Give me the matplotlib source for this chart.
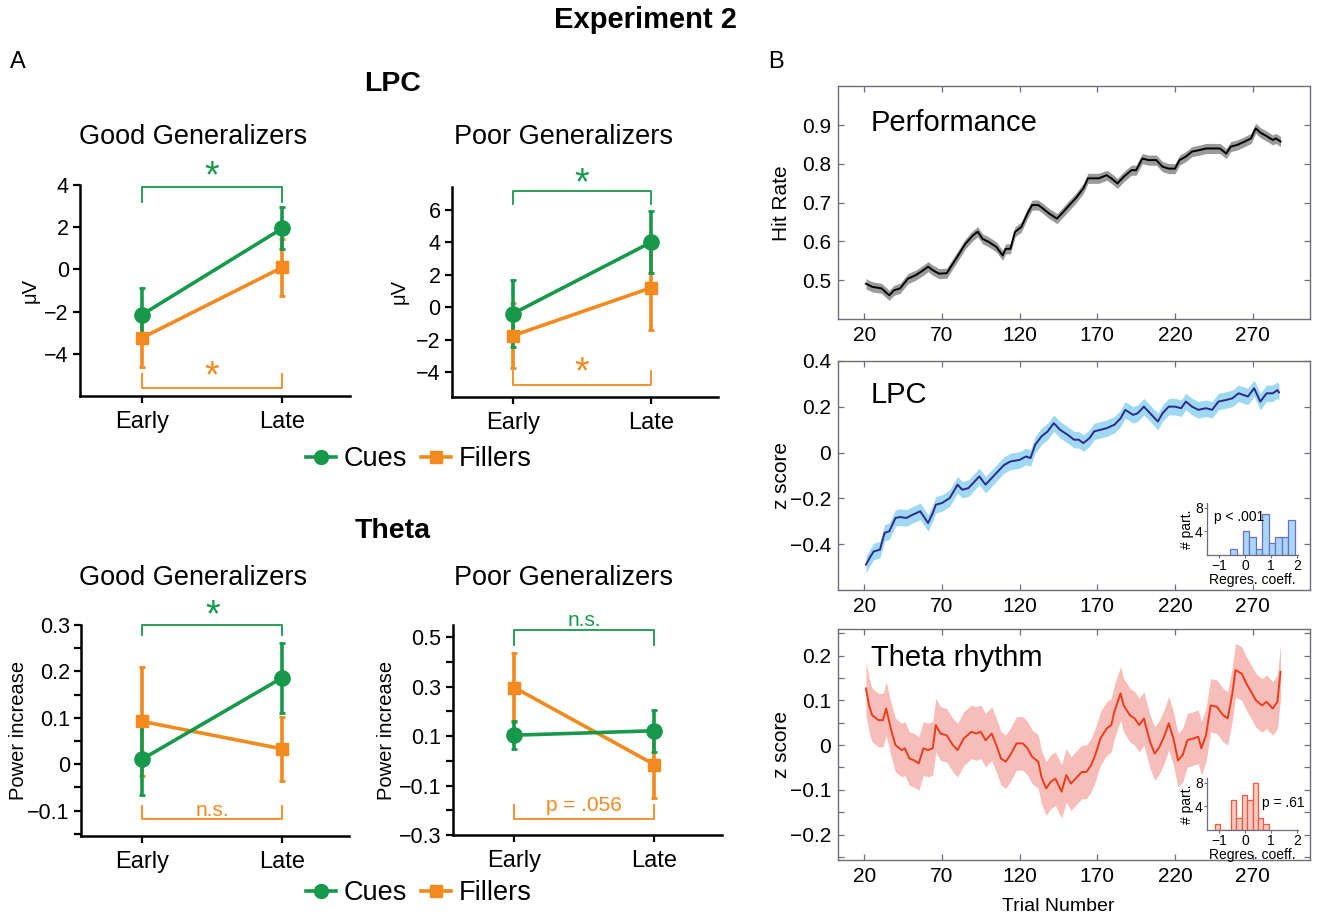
import matplotlib
matplotlib.use("Agg")
import matplotlib.pyplot as plt
import numpy as np
from matplotlib.lines import Line2D
from matplotlib.ticker import FuncFormatter, MultipleLocator

plt.rcParams['font.family'] = ['Liberation Sans', 'DejaVu Sans']

GREEN = '#16994a'
ORANGE = '#f28a1e'

# ---- panel A: mean +/- error, Early vs Late ----
phases = ['Early', 'Late']

lpc_good_cues = [-2.15, 1.95]
lpc_good_cues_err = [1.27, 1.0]
lpc_good_fill = [-3.25, 0.1]
lpc_good_fill_err = [1.36, 1.35]

lpc_poor_cues = [-0.4, 4.0]
lpc_poor_cues_err = [2.05, 1.9]
lpc_poor_fill = [-1.75, 1.2]
lpc_poor_fill_err = [2.0, 2.6]

theta_good_cues = [0.011, 0.186]
theta_good_cues_err = [0.078, 0.076]
theta_good_fill = [0.092, 0.033]
theta_good_fill_err = [0.117, 0.069]

theta_poor_cues = [0.104, 0.122]
theta_poor_cues_err = [0.056, 0.086]
theta_poor_fill = [0.297, -0.015]
theta_poor_fill_err = [0.14, 0.135]

# ---- panel B: running averages over trials ----
perf_trials = [21, 25, 31, 36, 39, 43, 48, 53, 58, 61, 64, 68, 73, 77, 81, 85, 90, 93, 96, 100,
               105, 109, 111, 114, 117, 121, 125, 128, 132, 135, 139, 144, 148, 152, 156, 161, 164, 167, 171, 176,
               179, 183, 187, 192, 195, 199, 203, 208, 212, 216, 220, 223, 227, 231, 236, 240, 244, 249, 253, 256,
               260, 265, 269, 272, 275, 279, 283, 285, 288]
perf_rate = [0.491, 0.483, 0.479, 0.461, 0.474, 0.479, 0.504, 0.513, 0.526, 0.535,
             0.526, 0.517, 0.518, 0.543, 0.568, 0.594, 0.616, 0.625, 0.607, 0.599,
             0.586, 0.564, 0.581, 0.581, 0.625, 0.637, 0.672, 0.694, 0.694, 0.685,
             0.672, 0.659, 0.676, 0.694, 0.711, 0.737, 0.763, 0.763, 0.763, 0.771,
             0.763, 0.750, 0.767, 0.784, 0.784, 0.814, 0.810, 0.810, 0.793, 0.788,
             0.788, 0.810, 0.819, 0.832, 0.836, 0.840, 0.840, 0.840, 0.827, 0.845,
             0.849, 0.858, 0.866, 0.892, 0.881, 0.872, 0.862, 0.866, 0.858]
perf_sem = 0.013

lpc_trials = [21, 24, 26, 30, 33, 36, 40, 43, 47, 51, 56, 61, 64, 66, 70, 75, 80, 83, 87, 91,
              94, 98, 102, 107, 110, 114, 120, 124, 127, 130, 134, 138, 142, 146, 151, 155, 158, 161, 165, 168,
              172, 176, 181, 185, 188, 193, 196, 200, 204, 209, 212, 216, 220, 224, 227, 231, 235, 240, 244, 248,
              253, 257, 261, 267, 271, 275, 279, 283, 286, 287]
lpc_z = [-0.488, -0.452, -0.431, -0.423, -0.350, -0.343, -0.285, -0.281, -0.285, -0.271,
         -0.256, -0.307, -0.264, -0.227, -0.220, -0.198, -0.140, -0.162, -0.155, -0.126,
         -0.104, -0.140, -0.111, -0.075, -0.054, -0.039, -0.032, -0.017, -0.024, 0.034,
         0.070, 0.092, 0.128, 0.099, 0.077, 0.056, 0.056, 0.041, 0.063, 0.092,
         0.099, 0.106, 0.121, 0.149, 0.186, 0.164, 0.171, 0.200, 0.171, 0.135,
         0.171, 0.200, 0.200, 0.193, 0.222, 0.200, 0.186, 0.193, 0.186, 0.222,
         0.229, 0.236, 0.258, 0.244, 0.280, 0.222, 0.258, 0.258, 0.272, 0.262]
lpc_sem = 0.036

theta_trials = [21, 23, 25, 29, 32, 34, 37, 40, 44, 46, 49, 52, 55, 58, 61, 64, 66, 69, 73, 77,
                80, 84, 89, 92, 95, 98, 102, 105, 108, 111, 114, 118, 122, 125, 128, 132, 134, 137, 140, 143,
                147, 150, 153, 156, 160, 163, 166, 169, 172, 176, 179, 181, 185, 187, 191, 194, 197, 200, 204, 207,
                210, 213, 216, 219, 222, 225, 228, 232, 235, 237, 240, 243, 247, 251, 254, 257, 259, 263, 266, 269,
                272, 276, 279, 283, 286, 288]
theta_z = [0.127, 0.089, 0.067, 0.056, 0.056, 0.082, 0.037, 0.000, -0.011, -0.007,
           -0.030, -0.034, -0.041, -0.007, -0.011, -0.007, 0.045, 0.026, 0.022, 0.000,
           -0.011, 0.015, 0.030, 0.026, 0.030, 0.011, 0.026, 0.000, -0.030, -0.037,
           -0.022, 0.004, 0.004, -0.007, -0.026, -0.037, -0.071, -0.097, -0.082, -0.075,
           -0.104, -0.067, -0.086, -0.075, -0.060, -0.060, -0.045, -0.019, 0.015, 0.037,
           0.045, 0.075, 0.116, 0.089, 0.067, 0.060, 0.045, 0.060, 0.007, -0.019,
           -0.004, 0.019, 0.049, 0.015, -0.034, -0.022, 0.011, 0.015, 0.019, -0.007,
           0.022, 0.089, 0.086, 0.067, 0.060, 0.116, 0.168, 0.160, 0.138, 0.120,
           0.101, 0.089, 0.097, 0.082, 0.097, 0.164]
theta_sem = 0.06

trial_ticks = [20, 70, 120, 170, 220, 270]

# insets: histograms of regression coefficients
lpc_hist_bins = [-0.455, -0.205, 0.045, 0.295, 0.545, 0.795, 1.045, 1.295, 1.545, 1.795]
lpc_hist_counts = [1, 0, 4, 3, 1, 7, 2, 3, 3, 6]
theta_hist_bins = [-1.075, -0.865, -0.655, -0.445, -0.235, -0.025, 0.185, 0.395, 0.605, 0.815]
theta_hist_counts = [1, 0, 0, 5, 2, 6, 5, 8, 2, 1]


def fmt(v, pos):
    return ('%g' % round(v, 3)).replace('-', '\u2212')


fig = plt.figure(figsize=(13.17, 9.19), dpi=100)


def group_panel(rect, cues, cues_err, fill, fill_err, ylim, ticks, minor, ylabel, ylab_x, top, bot):
    ax = fig.add_axes(rect)
    x = np.arange(len(phases))
    ax.errorbar(x, fill, yerr=fill_err, color=ORANGE, marker='s', ms=9, lw=2.6,
                elinewidth=2.6, capsize=2.5, capthick=2)
    ax.errorbar(x, cues, yerr=cues_err, color=GREEN, marker='o', ms=11, lw=2.6,
                elinewidth=2.6, capsize=2.5, capthick=2)
    ax.set_xlim(-0.44, 1.48)
    ax.set_ylim(*ylim)
    ax.set_xticks(x)
    ax.set_xticklabels(phases)
    ax.set_yticks(ticks)
    if minor:
        ax.yaxis.set_minor_locator(MultipleLocator(minor))
        ax.tick_params(axis='y', which='minor', length=5, width=1.6, direction='out')
    ax.yaxis.set_major_formatter(FuncFormatter(fmt))
    for s in ['top', 'right']:
        ax.spines[s].set_visible(False)
    for s in ['left', 'bottom']:
        ax.spines[s].set_linewidth(1.8)
    ax.tick_params(axis='y', which='major', labelsize=15.5, length=5, width=1.6, pad=3)
    ax.tick_params(axis='x', labelsize=17, length=5, width=1.6, pad=6)
    ax.set_ylabel(ylabel, fontsize=14.5)
    ax.yaxis.set_label_coords(ylab_x, 0.5)
    # significance brackets
    for (yl, ye, txt, ty, col, fs) in [top, bot]:
        ax.plot([0, 0, 1, 1], [ye, yl, yl, ye], color=col, lw=1.3, clip_on=False)
        ax.text(0.5, ty, txt, color=col, fontsize=fs, ha='center', va='center', clip_on=False)
    return ax


group_panel([0.0607, 0.5691, 0.2050, 0.2296], lpc_good_cues, lpc_good_cues_err,
            lpc_good_fill, lpc_good_fill_err, (-6, 4), [-4, -2, 0, 2, 4], None, '\u03bcV', -0.148,
            (3.9, 3.2, '*', 4.35, GREEN, 27), (-5.6, -4.95, '*', -5.1, ORANGE, 27))
group_panel([0.3430, 0.5683, 0.2022, 0.2285], lpc_poor_cues, lpc_poor_cues_err,
            lpc_poor_fill, lpc_poor_fill_err, (-5.5, 7.4), [-4, -2, 0, 2, 4, 6], None, '\u03bcV', -0.16,
            (7.16, 6.37, '*', 7.55, GREEN, 27), (-4.77, -3.94, '*', -4.05, ORANGE, 27))
group_panel([0.0615, 0.0903, 0.2035, 0.2296], theta_good_cues, theta_good_cues_err,
            theta_good_fill, theta_good_fill_err, (-0.155, 0.3), [-0.1, 0, 0.1, 0.2, 0.3], 0.05,
            'Power increase', -0.197,
            (0.3, 0.278, '*', 0.318, GREEN, 27), (-0.118, -0.091, 'n.s.', -0.1, ORANGE, 15))
group_panel([0.3437, 0.0914, 0.2043, 0.2285], theta_poor_cues, theta_poor_cues_err,
            theta_poor_fill, theta_poor_fill_err, (-0.3, 0.55), [-0.3, -0.1, 0.1, 0.3, 0.5], 0.1,
            'Power increase', -0.21,
            (0.528, 0.47, 'n.s.', 0.57, GREEN, 15), (-0.236, -0.18, 'p = .056', -0.18, ORANGE, 15))

# legends
handles = [Line2D([], [], color=GREEN, marker='o', ms=10, lw=2.6),
           Line2D([], [], color=ORANGE, marker='s', ms=9, lw=2.6)]
for ly in [0.5005, 0.028]:
    fig.legend(handles, ['Cues', 'Fillers'], loc='center', bbox_to_anchor=(0.318, ly), ncol=2,
               frameon=False, fontsize=19.5, handlelength=1.1, handletextpad=0.3, columnspacing=0.5)

fig.text(0.4898, 0.978, 'Experiment 2', fontsize=21, fontweight='bold', ha='center', va='center')
fig.text(0.0137, 0.9325, 'A', fontsize=17, ha='center', va='center')
fig.text(0.589, 0.9325, 'B', fontsize=17, ha='center', va='center')
fig.text(0.2984, 0.9086, 'LPC', fontsize=20.5, fontweight='bold', ha='center', va='center')
fig.text(0.2984, 0.4222, 'Theta', fontsize=20.5, fontweight='bold', ha='center', va='center')
for yy in [0.851, 0.371]:
    fig.text(0.1465, yy, 'Good Generalizers', fontsize=19.5, ha='center', va='center')
    fig.text(0.4275, yy, 'Poor Generalizers', fontsize=19.5, ha='center', va='center')


def trace_panel(rect, trials, vals, sem, line_col, band_col, ylim, yticks, minor, ylabel, title, title_y):
    ax = fig.add_axes(rect)
    t = np.array(trials)
    v = np.array(vals)
    ax.fill_between(t, v - sem, v + sem, color=band_col, lw=0)
    ax.plot(t, v, color=line_col, lw=1.4)
    ax.set_xlim(3, 307)
    ax.set_ylim(*ylim)
    ax.set_xticks(trial_ticks)
    ax.set_yticks(yticks)
    if minor:
        ax.yaxis.set_minor_locator(MultipleLocator(minor))
    ax.yaxis.set_major_formatter(FuncFormatter(fmt))
    for s in ax.spines.values():
        s.set_color('#6e6e78')
        s.set_linewidth(1.0)
    ax.tick_params(which='both', direction='in', top=True, right=True, length=4,
                   width=0.9, color='#6e6e78', labelsize=15, pad=5)
    ax.set_ylabel(ylabel, fontsize=15)
    ax.yaxis.set_label_coords(-0.1, 0.5)
    ax.text(0.07, title_y, title, fontsize=21, transform=ax.transAxes, ha='left', va='center')
    return ax


trace_panel([0.6363, 0.6529, 0.3584, 0.2530], perf_trials, perf_rate, perf_sem, 'black', '#9a9a9a',
            (0.4, 1.0), [0.5, 0.6, 0.7, 0.8, 0.9], None, 'Hit Rate', 'Performance', 0.843)
trace_panel([0.6363, 0.3577, 0.3584, 0.2498], lpc_trials, lpc_z, lpc_sem, '#2e2a8a', '#9fd8f3',
            (-0.6, 0.4), [-0.4, -0.2, 0, 0.2, 0.4], None, 'z score', 'LPC', 0.851)
ax_t = trace_panel([0.6363, 0.0642, 0.3584, 0.2514], theta_trials, theta_z, theta_sem, '#ee3b1a', '#f7bdb8',
                   (-0.257, 0.26), [-0.2, -0.1, 0, 0.1, 0.2], 0.05, 'z score', 'Theta rhythm', 0.874)
ax_t.set_xlabel('Trial Number', fontsize=14)
ax_t.xaxis.set_label_coords(0.466, -0.165)


def hist_inset(rect, bins, counts, width, face, edge, ptxt, px, py):
    ins = fig.add_axes(rect)
    ins.bar(bins, counts, width=width, color=face, edgecolor=edge, lw=0.9)
    ins.set_xlim(-1.47, 2.05)
    ins.set_ylim(0, 8.8)
    ins.set_xticks([-1, 0, 1, 2])
    ins.set_yticks([4, 8])
    ins.xaxis.set_major_formatter(FuncFormatter(fmt))
    ins.patch.set_alpha(0)
    for s in ['top', 'right']:
        ins.spines[s].set_visible(False)
    for s in ['left', 'bottom']:
        ins.spines[s].set_color('#6e6e78')
        ins.spines[s].set_linewidth(0.9)
    ins.tick_params(labelsize=10, length=2, pad=1, color='#6e6e78')
    ins.set_ylabel('# part.', fontsize=10, labelpad=1)
    ins.set_xlabel('Regres. coeff.', fontsize=10, labelpad=0)
    ins.text(px, py, ptxt, fontsize=10, ha='left', va='center')


hist_inset([0.9165, 0.3961, 0.0691, 0.0566], lpc_hist_bins, lpc_hist_counts, 0.25,
           '#a9d8f5', '#6b6fc9', 'p < .001', -1.2, 6.5)
hist_inset([0.9165, 0.0968, 0.0691, 0.0566], theta_hist_bins, theta_hist_counts, 0.21,
           '#f9c8c2', '#ec5a40', 'p = .61', 0.67, 4.6)

fig.savefig('out.png', dpi=100)
